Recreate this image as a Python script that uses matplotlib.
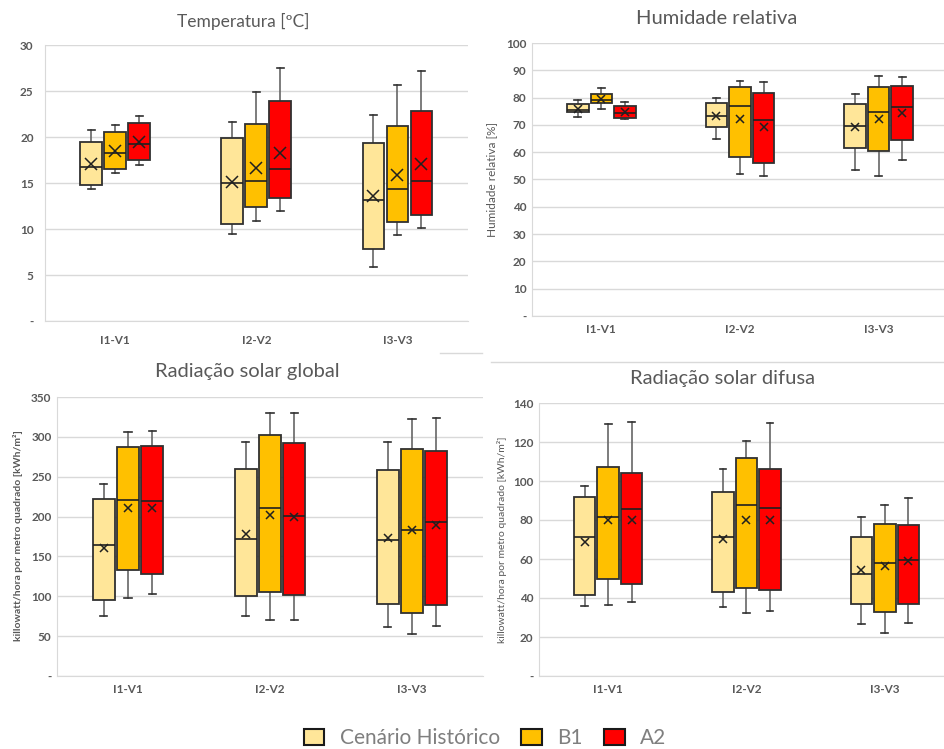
import matplotlib
matplotlib.use("Agg")
import matplotlib.pyplot as plt
from matplotlib.patches import Patch

plt.rcParams['font.family'] = ['Lato', 'DejaVu Sans']

SITES = ["I1-V1", "I2-V2", "I3-V3"]
SCENARIOS = ["Cenário Histórico", "B1", "A2"]
COLORS = ["#FFE699", "#FFC000", "#FF0000"]

# each tuple: (min, q1, median, q3, max, mean) for I1-V1, I2-V2, I3-V3
TEMP_HIST = [(14.35, 14.75, 16.7, 19.5, 20.8, 17.1), (9.5, 10.5, 14.95, 19.85, 21.6, 15.15), (5.9, 7.8, 13.2, 19.4, 22.4, 13.6)]
TEMP_B1 = [(16.1, 16.5, 18.3, 20.5, 21.3, 18.5), (10.85, 12.35, 15.25, 21.4, 24.9, 16.6), (9.4, 10.8, 14.4, 21.2, 25.6, 15.9)]
TEMP_A2 = [(17.0, 17.5, 19.25, 21.5, 22.3, 19.45), (11.95, 13.4, 16.5, 23.9, 27.55, 18.3), (10.1, 11.55, 15.25, 22.8, 27.2, 17.1)]

HUM_HIST = [(73.0, 74.8, 75.5, 77.5, 79.0, 76.0), (64.8, 69.1, 73.2, 78.1, 79.8, 73.2), (53.5, 61.5, 69.6, 77.5, 81.2, 69.1)]
HUM_B1 = [(75.9, 78.2, 79.2, 81.2, 83.5, 79.6), (52.1, 58.2, 76.9, 83.7, 86.1, 72.2), (51.3, 60.5, 74.6, 84.0, 87.8, 72.2)]
HUM_A2 = [(72.0, 72.4, 74.3, 77.1, 78.5, 74.6), (51.3, 55.9, 71.8, 81.7, 85.7, 69.2), (57.2, 64.4, 76.5, 84.4, 87.4, 74.2)]

GLOB_HIST = [(75.0, 95.6, 164.3, 222.5, 241.0, 160.1), (75.0, 100.6, 171.8, 260.3, 293.0, 178.1), (62.0, 89.7, 170.2, 258.2, 293.0, 172.7)]
GLOB_B1 = [(98.1, 132.4, 220.5, 287.1, 305.5, 211.2), (70.4, 104.8, 210.4, 301.8, 329.8, 202.4), (52.4, 79.6, 182.7, 284.2, 321.9, 182.7)]
GLOB_A2 = [(102.3, 127.4, 219.2, 288.3, 306.8, 210.4), (70.4, 101.4, 201.2, 291.7, 329.8, 199.9), (63.3, 88.9, 192.8, 282.5, 324.0, 189.4)]

DIF_HIST = [(35.9, 41.7, 71.3, 91.6, 97.6, 68.5), (35.4, 43.1, 71.3, 94.4, 106.2, 70.4), (26.8, 37.1, 52.3, 71.3, 81.5, 54.2)]
DIF_B1 = [(36.4, 49.6, 81.7, 107.2, 129.2, 80.2), (32.5, 45.1, 87.9, 111.8, 120.5, 80.0), (22.2, 33.0, 57.8, 77.8, 87.5, 56.4)]
DIF_A2 = [(37.9, 47.2, 85.6, 103.9, 130.1, 79.8), (33.3, 43.9, 86.3, 106.2, 129.6, 80.2), (27.2, 36.8, 59.7, 77.3, 91.3, 59.1)]

W, H = 945, 749
TXT = "#595959"
GRID = "#d9d9d9"


def px_axes(fig, left, right, top, bottom):
    """Create axes from pixel edges measured from the top-left corner."""
    return fig.add_axes([left / W, 1 - bottom / H, (right - left) / W, (bottom - top) / H])


def to_stats(rows):
    return [dict(whislo=r[0], q1=r[1], med=r[2], q3=r[3], whishi=r[4], mean=r[5]) for r in rows]


def draw_panel(ax, series, ymax, step, marker_size, xpad):
    offsets = [-0.17, 0, 0.17]
    for rows, off, color in zip(series, offsets, COLORS):
        pos = [i + off for i in range(len(SITES))]
        ax.bxp(to_stats(rows), positions=pos, widths=0.155, capwidths=0.05,
               patch_artist=True, showmeans=True, showfliers=False, manage_ticks=False,
               boxprops=dict(facecolor=color, edgecolor="#303030", linewidth=1.3, zorder=3),
               medianprops=dict(color="#202020", linewidth=1.2, zorder=4),
               whiskerprops=dict(color="#666666", linewidth=1.2, zorder=2),
               capprops=dict(color="#303030", linewidth=1.2, zorder=2),
               meanprops=dict(marker="x", markeredgecolor="#202020", markersize=marker_size,
                              markeredgewidth=1.1, zorder=5))
    ax.set_xlim(-0.5, 2.5)
    ax.set_ylim(0, ymax)
    ticks = list(range(0, ymax + 1, step))
    ax.set_yticks(ticks)
    ax.set_yticklabels(["-" if t == 0 else str(t) for t in ticks])
    ax.set_xticks(range(len(SITES)))
    ax.set_xticklabels(SITES)
    ax.grid(axis="y", color=GRID, linewidth=1.0, zorder=0)
    ax.set_axisbelow(True)
    for s in ["top", "right"]:
        ax.spines[s].set_visible(False)
    for s in ["left", "bottom"]:
        ax.spines[s].set_color(GRID)
    ax.tick_params(length=0, labelcolor=TXT, labelsize=8.5)
    ax.tick_params(axis="x", pad=xpad)
    for lab in ax.get_xticklabels() + ax.get_yticklabels():
        lab.set_fontweight("bold")


fig = plt.figure(figsize=(W / 100, H / 100), dpi=100)

ax1 = px_axes(fig, 44.7, 468, 45, 321)
draw_panel(ax1, [TEMP_HIST, TEMP_B1, TEMP_A2], 30, 5, 8, 10)
ax1.tick_params(axis="y", pad=8)
fig.text(243 / W, 1 - 21 / H, "Temperatura [ºC]", ha="center", va="center", fontsize=12.5, color=TXT)

ax2 = px_axes(fig, 532, 948, 43, 316)
draw_panel(ax2, [HUM_HIST, HUM_B1, HUM_A2], 100, 10, 5.5, 6)
ax2.tick_params(axis="y", pad=4)
fig.text(717 / W, 1 - 19 / H, "Humidade relativa", ha="center", va="center", fontsize=14.5, color=TXT)
fig.text(492 / W, 1 - 179 / H, "Humidade relativa [%]", ha="center", va="center", rotation=90,
         fontsize=8.5, color=TXT)

ax3 = px_axes(fig, 57, 483, 397, 676)
draw_panel(ax3, [GLOB_HIST, GLOB_B1, GLOB_A2], 350, 50, 5.5, 6)
ax3.tick_params(axis="y", pad=4)
fig.text(247 / W, 1 - 372 / H, "Radiação solar global", ha="center", va="center", fontsize=14.5, color=TXT)
fig.text(18 / W, 1 - 536 / H, "killowatt/hora por metro quadrado [kWh/m²]", ha="center", va="center",
         rotation=90, fontsize=7.5, color=TXT, fontweight="bold")

ax4 = px_axes(fig, 539, 954, 403, 676)
draw_panel(ax4, [DIF_HIST, DIF_B1, DIF_A2], 140, 20, 5.5, 6)
ax4.tick_params(axis="y", pad=4)
fig.text(723 / W, 1 - 379 / H, "Radiação solar difusa", ha="center", va="center", fontsize=14.5, color=TXT)
fig.text(502 / W, 1 - 540 / H, "killowatt/hora por metro quadrado [kWh/m²]", ha="center", va="center",
         rotation=90, fontsize=7.5, color=TXT)

# faint chart borders between the panels
fig.add_artist(plt.Line2D([440 / W, 482 / W], [1 - 353 / H] * 2, color=GRID, linewidth=1))
fig.add_artist(plt.Line2D([491 / W, 1.0], [1 - 362 / H] * 2, color=GRID, linewidth=1))

handles = [Patch(facecolor=c, edgecolor="#1a1a1a", linewidth=1.5) for c in COLORS]
fig.legend(handles, SCENARIOS, loc="center", bbox_to_anchor=(485 / W, 1 - 738 / H), ncol=3,
           frameon=False, fontsize=15, labelcolor="#7f7f7f", handlelength=1.0, handleheight=0.8,
           handletextpad=0.75, columnspacing=1.0, borderpad=0)

fig.savefig("out.png", dpi=100)
